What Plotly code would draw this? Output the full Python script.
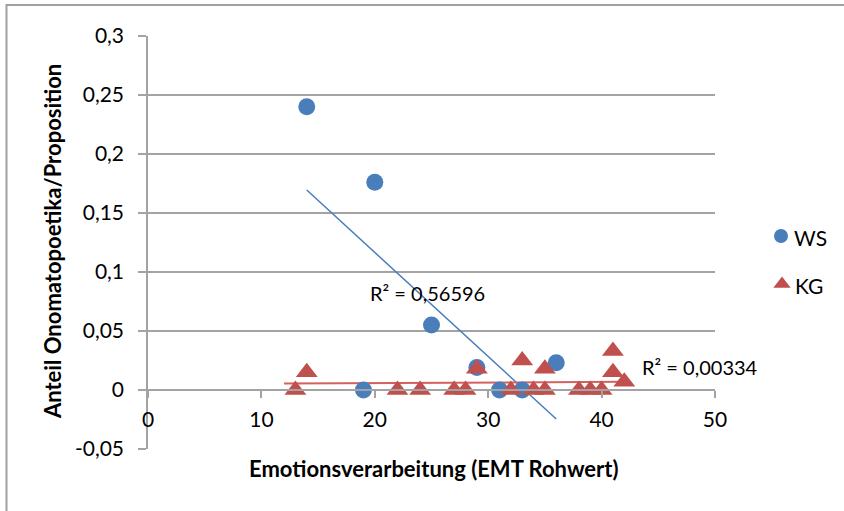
import plotly.graph_objects as go

# Data
ws_x = [14, 20, 25, 29, 19, 31, 33, 36]
ws_y = [0.24, 0.176, 0.055, 0.019, 0.0, 0.0, 0.0, 0.023]
kg_x = [13, 14, 22, 24, 27, 28, 29, 32, 33, 34, 35, 35, 38, 39, 40, 41, 41, 42]
kg_y = [0.0, 0.015, 0.0, 0.0, 0.0, 0.0, 0.018, 0.0, 0.025, 0.0, 0.0, 0.018, 0.0, 0.0, 0.0, 0.033, 0.015, 0.007]
ws_trend_x = [14, 36]
ws_trend_y = [0.1695, -0.0246]
kg_trend_x = [12, 42]
kg_trend_y = [0.0055, 0.0069]
ws_r2 = "R² = 0,56596"
kg_r2 = "R² = 0,00334"
y_tickvals = [-0.05, 0, 0.05, 0.1, 0.15, 0.2, 0.25, 0.3]
y_ticktext = ["-0,05", "0", "0,05", "0,1", "0,15", "0,2", "0,25", "0,3"]
x_tickvals = [0, 10, 20, 30, 40, 50]
x_ticktext = ["0", "10", "20", "30", "40", "50"]
series_names = ["WS", "KG"]
x_title = "Emotionsverarbeitung (EMT Rohwert)"
y_title = "Anteil Onomatopoetika/Proposition"

BLUE = "#4A7EBB"
RED = "#C0504D"
RED_LINE = "#D3625E"
GRID = "#a3a3a3"
FONT = "Lato"

W, H = 844, 511
# plot-area pixel box
PL, PR, PT, PB = 148, 715, 36, 449
Y0_PIX = 390  # pixel row of y = 0

fig = go.Figure()
# trend lines
fig.add_trace(go.Scatter(x=ws_trend_x, y=ws_trend_y, mode="lines",
                         line=dict(color=BLUE, width=1.5), showlegend=False, hoverinfo="skip"))
fig.add_trace(go.Scatter(x=kg_trend_x, y=kg_trend_y, mode="lines",
                         line=dict(color=RED_LINE, width=2), showlegend=False, hoverinfo="skip"))
# series
fig.add_trace(go.Scatter(x=ws_x, y=ws_y, mode="markers", name=series_names[0], showlegend=False,
                         marker=dict(symbol="circle", size=17, color=BLUE)))
fig.add_trace(go.Scatter(x=kg_x, y=kg_y, mode="markers", name=series_names[1], showlegend=False,
                         marker=dict(symbol="triangle-up", size=19, color=RED)))

# legend drawn on a pixel overlay axis
fig.add_trace(go.Scatter(x=[781], y=[236], mode="markers", xaxis="x2", yaxis="y2",
                         marker=dict(symbol="circle", size=14, color=BLUE),
                         showlegend=False, hoverinfo="skip"))
fig.add_trace(go.Scatter(x=[782], y=[284], mode="markers", xaxis="x2", yaxis="y2",
                         marker=dict(symbol="triangle-up", size=15, color=RED),
                         showlegend=False, hoverinfo="skip"))

fig.update_layout(
    width=W, height=H,
    margin=dict(l=0, r=0, t=0, b=0, pad=0, autoexpand=False),
    paper_bgcolor="white", plot_bgcolor="rgba(0,0,0,0)",
    font=dict(family=FONT, size=20, color="#000000"),
    showlegend=False,
    xaxis=dict(domain=[PL / W, PR / W], range=[0, 50], tickvals=x_tickvals, ticktext=x_ticktext,
               showgrid=False, zeroline=False, showline=True, linecolor=GRID, linewidth=1.5,
               ticks="outside", ticklen=7, tickcolor=GRID, tickwidth=1.5,
               anchor="free", position=(H - Y0_PIX) / H, tickfont=dict(size=21),
               ticklabelstandoff=4, automargin=False),
    yaxis=dict(domain=[(H - PB) / H, (H - PT) / H], range=[-0.05, 0.3],
               tickvals=y_tickvals, ticktext=y_ticktext,
               showgrid=True, gridcolor=GRID, gridwidth=1.5, zeroline=False,
               showline=True, linecolor=GRID, linewidth=1.5,
               ticks="outside", ticklen=8, tickcolor=GRID, tickwidth=1.5,
               tickfont=dict(size=21), ticklabelstandoff=10, automargin=False),
    xaxis2=dict(domain=[0, 1], range=[0, W], visible=False, anchor="y2", fixedrange=True,
                automargin=False),
    yaxis2=dict(domain=[0, 1], range=[H, 0], visible=False, anchor="x2", fixedrange=True,
                automargin=False),
)

ann = [
    dict(x=368, y=293, text=ws_r2, xanchor="left", font=dict(size=20)),
    dict(x=640, y=367, text=kg_r2, xanchor="left", font=dict(size=20)),
    dict(x=792, y=237, text=series_names[0], xanchor="left", font=dict(size=21)),
    dict(x=793, y=285, text=series_names[1], xanchor="left", font=dict(size=21)),
    dict(x=434, y=468, text="<b>" + x_title + "</b>", font=dict(size=22)),
    dict(x=52, y=242, text="<b>" + y_title + "</b>", textangle=-90, font=dict(size=22)),
]
for a in ann:
    fig.add_annotation(xref="x2", yref="y2", showarrow=False, **a)

# chart frame
fig.add_shape(type="rect", xref="x2", yref="y2", x0=6.5, x1=870, y0=5, y1=530,
              line=dict(color="#a0a0a0", width=2), fillcolor="rgba(0,0,0,0)", layer="below")

fig.write_html("out.html")
